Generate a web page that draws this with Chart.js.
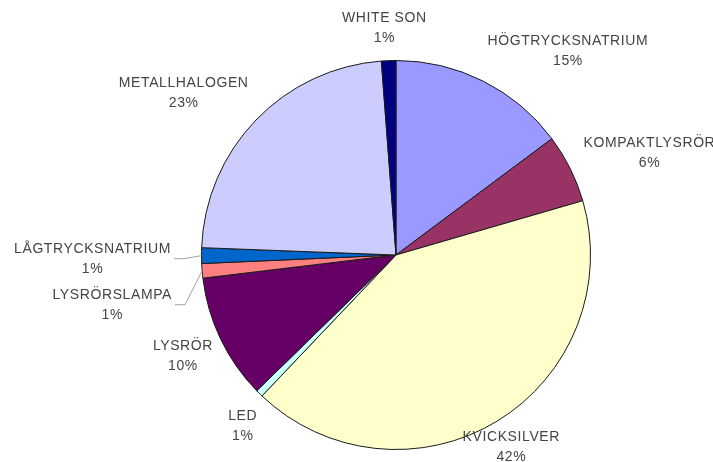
<!DOCTYPE html>
<html>
<head>
<meta charset="utf-8">
<script src="https://cdn.jsdelivr.net/npm/chart.js@4/dist/chart.umd.min.js"></script>
<style>
  html, body { margin: 0; padding: 0; background: #fff; }
  #wrap { width: 713px; height: 462px; }
</style>
</head>
<body>
<div id="wrap"><canvas id="pieChart" width="713" height="462"></canvas></div>
<script>
// ==================== DATA ====================
var categorias = ['HÖGTRYCKSNATRIUM', 'KOMPAKTLYSRÖR', 'KVICKSILVER', 'LED', 'LYSRÖR',
  'LYSRÖRSLAMPA', 'LÅGTRYCKSNATRIUM', 'METALLHALOGEN', 'WHITE SON'];
var valores = [14.8, 5.7, 41.6, 0.6, 10.4, 1.2, 1.3, 23.2, 1.2];
var colores = ['#9999ff', '#993366', '#ffffcc', '#ccffff', '#660066',
  '#ff8080', '#0066cc', '#ccccff', '#000080'];

// ajuste de etiquetas (dx, dy) y linea guia
var ajusteEtiqueta = [[69, -9], [48, -10], [-4, -14], [8, -2], [-6, -8],
  [-55, 21], [-74, -7], [-47, -13], [-3, -8]];
var lineaGuia = [false, false, false, false, false, true, true, false, false];

// ==================== PLUGIN ETIQUETAS ====================
var etiquetasPlugin = {
  id: 'etiquetas',
  afterDatasetsDraw: function (chart) {
    var ctx = chart.ctx;
    var meta = chart.getDatasetMeta(0);
    var total = valores.reduce(function (a, b) { return a + b; }, 0);
    ctx.save();
    ctx.font = '14px "Liberation Sans", Arial, sans-serif';
    if ('letterSpacing' in ctx) ctx.letterSpacing = '0.6px';
    ctx.textAlign = 'center';
    ctx.textBaseline = 'middle';
    meta.data.forEach(function (arc, i) {
      var p = arc.getProps(['x', 'y', 'startAngle', 'endAngle', 'outerRadius'], true);
      var mid = (p.startAngle + p.endAngle) / 2;
      var d = p.outerRadius + 35;
      var x = p.x + Math.cos(mid) * d + ajusteEtiqueta[i][0];
      var y = p.y + Math.sin(mid) * d + ajusteEtiqueta[i][1];
      var pct = Math.round(valores[i] / total * 100) + '%';

      if (lineaGuia[i]) {
        var w = ctx.measureText(categorias[i]).width;
        var ex = p.x + Math.cos(mid) * p.outerRadius;
        var ey = p.y + Math.sin(mid) * p.outerRadius;
        var lx = x + w / 2 + 3;
        var ly = y + 10;
        ctx.strokeStyle = '#a0a0a0';
        ctx.lineWidth = 1;
        ctx.beginPath();
        ctx.moveTo(lx, ly);
        ctx.lineTo(lx + 10, ly);
        ctx.lineTo(ex, ey);
        ctx.stroke();
      }

      ctx.fillStyle = '#444';
      ctx.fillText(categorias[i], x, y);
      ctx.fillText(pct, x, y + 20);
    });
    ctx.restore();
  }
};

// ==================== CHART ====================
function initChart() {
  var ctx = document.getElementById('pieChart').getContext('2d');
  new Chart(ctx, {
    type: 'pie',
    data: {
      labels: categorias,
      datasets: [{
        data: valores,
        backgroundColor: colores,
        borderColor: '#1a1a1a',
        borderWidth: 1
      }]
    },
    options: {
      responsive: false,
      animation: false,
      layout: { padding: { left: 200, right: 121, top: 60, bottom: 12 } },
      plugins: {
        legend: { display: false },
        tooltip: { enabled: false }
      }
    },
    plugins: [etiquetasPlugin]
  });
}

initChart();
</script>
</body>
</html>
